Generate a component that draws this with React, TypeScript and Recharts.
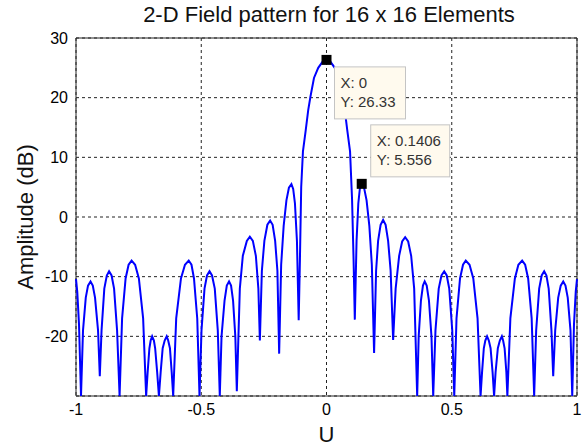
import { CartesianGrid, Line, LineChart, ReferenceArea, ReferenceDot, XAxis, YAxis } from "recharts";

// u samples, one line per lobe (left to right)
const uValues = [
  -1, -0.995, -0.988, -0.98,
  -0.972, -0.961, -0.952, -0.942, -0.933, -0.924, -0.912, -0.905,
  -0.898, -0.887, -0.877, -0.868, -0.858, -0.848, -0.836, -0.826,
  -0.816, -0.802, -0.79, -0.778, -0.764, -0.749, -0.732, -0.72,
  -0.714, -0.707, -0.702, -0.696, -0.689, -0.684, -0.676, -0.669,
  -0.662, -0.654, -0.646, -0.638, -0.632, -0.625, -0.618, -0.612,
  -0.6, -0.581, -0.565, -0.55, -0.539, -0.529, -0.516, -0.507,
  -0.499, -0.487, -0.477, -0.467, -0.457, -0.446, -0.434, -0.426,
  -0.419, -0.407, -0.398, -0.389, -0.381, -0.373, -0.364, -0.358,
  -0.346, -0.334, -0.318, -0.306, -0.294, -0.282, -0.272, -0.266,
  -0.258, -0.248, -0.236, -0.225, -0.215, -0.205, -0.196, -0.189,
  -0.181, -0.171, -0.16, -0.15, -0.14, -0.133, -0.126, -0.118, -0.111,
  -0.106, -0.101, -0.094, -0.083, -0.073, -0.064, -0.05, -0.033, -0.016,
  0,
  0.016, 0.033, 0.05, 0.064, 0.073, 0.083, 0.094, 0.102, 0.108, 0.113,
  0.12, 0.127, 0.133, 0.1406, 0.15, 0.16, 0.171, 0.181, 0.19,
  0.198, 0.206, 0.216, 0.226, 0.236, 0.246, 0.256, 0.266,
  0.276, 0.29, 0.302, 0.314, 0.326, 0.338, 0.35, 0.362,
  0.368, 0.377, 0.385, 0.392, 0.4, 0.409, 0.419, 0.426,
  0.435, 0.448, 0.459, 0.47, 0.48, 0.49, 0.502, 0.51,
  0.519, 0.533, 0.545, 0.556, 0.571, 0.586, 0.603, 0.615,
  0.621, 0.628, 0.634, 0.641, 0.648, 0.655, 0.663, 0.669,
  0.675, 0.684, 0.692, 0.7, 0.705, 0.711, 0.718, 0.722,
  0.734, 0.752, 0.766, 0.781, 0.793, 0.805, 0.819, 0.829,
  0.837, 0.849, 0.859, 0.869, 0.878, 0.887, 0.898, 0.905,
  0.913, 0.925, 0.935, 0.945, 0.954, 0.963, 0.974, 0.981,
  0.988, 0.995, 1,
];

const amplitudeDb = [
  -10.4, -12.5, -18, -30,
  -19, -13.5, -11.5, -10.8, -11.5, -13.5, -19, -26.7,
  -19, -12, -9.8, -9.1, -9.8, -12, -19, -30,
  -17, -10.3, -8, -7.3, -8, -10.3, -17, -30,
  -26, -22, -20.7, -20, -20.7, -22, -26, -30,
  -26, -22, -20.7, -20, -20.7, -22, -26, -30,
  -17, -10.3, -8, -7.3, -8, -10.3, -17, -30,
  -19, -12, -9.8, -9.1, -9.8, -12, -19, -30,
  -20, -14, -11.5, -10.8, -11.5, -14, -20, -29.2,
  -12, -6.5, -4, -3.3, -4, -6.5, -12, -20.7,
  -9, -4, -1.3, -0.6, -1.3, -4, -9, -22.9,
  -8, -1.5, 2.8, 4.9, 5.5, 4.7, 2.3, -4, -17.3,
  -7, 5, 11, 14.5, 17.9, 20.2, 23.3, 25, 26,
  26.33,
  26, 25, 23.3, 20.2, 17.9, 14.5, 11, 3, -7, -17.2,
  -4, 2.3, 4.7, 5.556, 4.9, 2.8, -1.5, -8, -22.8,
  -9, -4, -1.3, -0.5, -1.3, -4, -9, -20.6,
  -12, -6.5, -4.1, -3.4, -4.1, -6.5, -12, -30,
  -20, -14, -11.5, -10.8, -11.5, -14, -20, -30,
  -19, -12, -9.8, -9.1, -9.8, -12, -19, -30,
  -17, -10.3, -8, -7.3, -8, -10.3, -17, -30,
  -26, -22, -20.7, -20, -20.7, -22, -26, -30,
  -26, -22, -20.7, -20, -20.7, -22, -26, -30,
  -17, -10.3, -8, -7.3, -8, -10.3, -17, -30,
  -19, -12, -9.8, -9.1, -9.8, -12, -19, -26.7,
  -19, -13.5, -11.5, -10.8, -11.5, -13.5, -19, -30,
  -18, -12.5, -10.4,
];

const xTicks = [-1, -0.5, 0, 0.5, 1];
const yTicks = [-20, -10, 0, 10, 20, 30];

const dataTips = [
  { u: 0, db: 26.33, dx: 8, dy: 7 },
  { u: 0.1406, db: 5.556, dx: 9, dy: -59 },
];

const data = uValues.map((u, i) => ({ u, db: amplitudeDb[i] }));

const FONT = "'Liberation Sans', Arial, sans-serif";

const tipShape = (dx: number, dy: number, u: number, db: number) => (props: any) => {
  const { cx, cy } = props;
  const w = u === 0 ? 71 : 79;
  return (
    <g>
      <rect x={cx - 5} y={cy - 5} width={10} height={10} fill="#000" />
      <rect x={cx + dx} y={cy + dy} width={w} height={52} fill="#fffaee" stroke="#c4c4c4" />
      <text x={cx + dx + 6} y={cy + dy + 21} fontSize={15} fill="#333" fontFamily={FONT}>X: {u}</text>
      <text x={cx + dx + 6} y={cy + dy + 40} fontSize={15} fill="#333" fontFamily={FONT}>Y: {db}</text>
    </g>
  );
};

const App = () => {
  return (
    <div style={{ position: "absolute", left: 0, top: 0, width: 584, height: 448, background: "#fff", fontFamily: FONT }}>
      <div style={{ position: "absolute", left: 76, top: 4, width: 506, textAlign: "center", fontSize: 22, lineHeight: "22px", color: "#111" }}>
        2-D Field pattern for 16 x 16 Elements
      </div>
      <LineChart width={584} height={448} data={data} margin={{ top: 38, right: 7, bottom: 0, left: 0 }}>
        <CartesianGrid stroke="#222" strokeDasharray="3 3" />
        <XAxis
          dataKey="u"
          type="number"
          domain={[-1, 1]}
          ticks={xTicks}
          height={52}
          axisLine={false}
          tickLine={false}
          tick={{ fontSize: 16, fill: "#000", fontFamily: FONT }}
          label={{
            content: (p: any) => {
              const vb = p.viewBox;
              return (
                <text x={vb.x + vb.width / 2} y={442} textAnchor="middle" fontSize={22} fill="#111" fontFamily={FONT}>U</text>
              );
            },
          }}
        />
        <YAxis
          type="number"
          domain={[-30, 30]}
          ticks={yTicks}
          allowDataOverflow
          width={76}
          axisLine={false}
          tickLine={false}
          tick={{ fontSize: 16, fill: "#000", fontFamily: FONT }}
          label={{
            content: (p: any) => {
              const vb = p.viewBox;
              const cy = vb.y + vb.height / 2;
              return (
                <text x={33} y={cy} transform={`rotate(-90, 33, ${cy})`} textAnchor="middle" fontSize={22} fill="#111" fontFamily={FONT}>
                  Amplitude (dB)
                </text>
              );
            },
          }}
        />
        <ReferenceArea x1={-1} x2={1} y1={-30} y2={30} fill="none" stroke="#262626" strokeWidth={1} />
        <Line type="linear" dataKey="db" stroke="#0000ff" strokeWidth={2} dot={false} isAnimationActive={false} />
        {dataTips.map((t) => (
          <ReferenceDot key={t.u} x={t.u} y={t.db} r={5} shape={tipShape(t.dx, t.dy, t.u, t.db)} />
        ))}
      </LineChart>
    </div>
  );
};

export default App;
